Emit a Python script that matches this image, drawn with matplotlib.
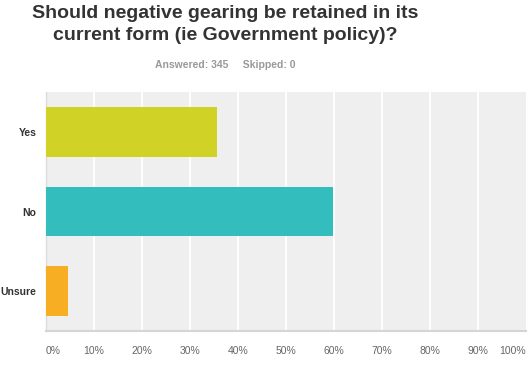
import matplotlib
matplotlib.use("Agg")
import matplotlib.pyplot as plt

categories = ["Yes", "No", "Unsure"]
values = [35.65, 59.71, 4.64]
colors = ["#d0d326", "#33bdbd", "#f7ae23"]
xticks = [0, 10, 20, 30, 40, 50, 60, 70, 80, 90, 100]
xtick_labels = [f"{t}%" for t in xticks]
title = "Should negative gearing be retained in its\ncurrent form (ie Government policy)?"
subtitle = "Answered: 345     Skipped: 0"

plt.rcParams['font.family'] = ['Liberation Sans', 'DejaVu Sans']

fig = plt.figure(figsize=(5.32, 3.67), dpi=100)
ax = fig.add_axes([46/532, 1-331/367, 480/532, 239/367])
ax.set_facecolor("#efefef")

ypos = list(range(len(categories)))
ax.barh(ypos, values, height=0.625, color=colors, zorder=3)
ax.set_ylim(2.5, -0.5)
ax.set_xlim(0, 100)

for t in xticks[1:-1]:
    ax.axvline(t, color="white", lw=1.3, zorder=1)

ax.set_yticks(ypos)
ax.set_yticklabels(categories, fontsize=7.5, fontweight="bold", color="#333333")
ax.set_xticks(xticks)
ax.set_xticklabels(xtick_labels, fontsize=7.5, color="#666666")
labels = ax.get_xticklabels()
labels[0].set_ha("left")
labels[-1].set_ha("right")
ax.tick_params(axis="both", length=0)
ax.tick_params(axis="y", pad=7)
ax.tick_params(axis="x", pad=11)

for s in ["top", "right"]:
    ax.spines[s].set_visible(False)
ax.spines["bottom"].set_color("#d5d5d5")
ax.spines["bottom"].set_linewidth(1.5)
ax.spines["left"].set_color("#dcdcdc")
ax.spines["left"].set_linewidth(1)

fig.text(225/532, 1-24.5/367, title, ha="center", va="center", fontsize=14,
         fontweight="bold", color="#333333", linespacing=1.32)
fig.text(225/532, 1-65/367, subtitle, ha="center", va="center", fontsize=7.5,
         fontweight="bold", color="#999999")

fig.savefig("out.png", dpi=100)
